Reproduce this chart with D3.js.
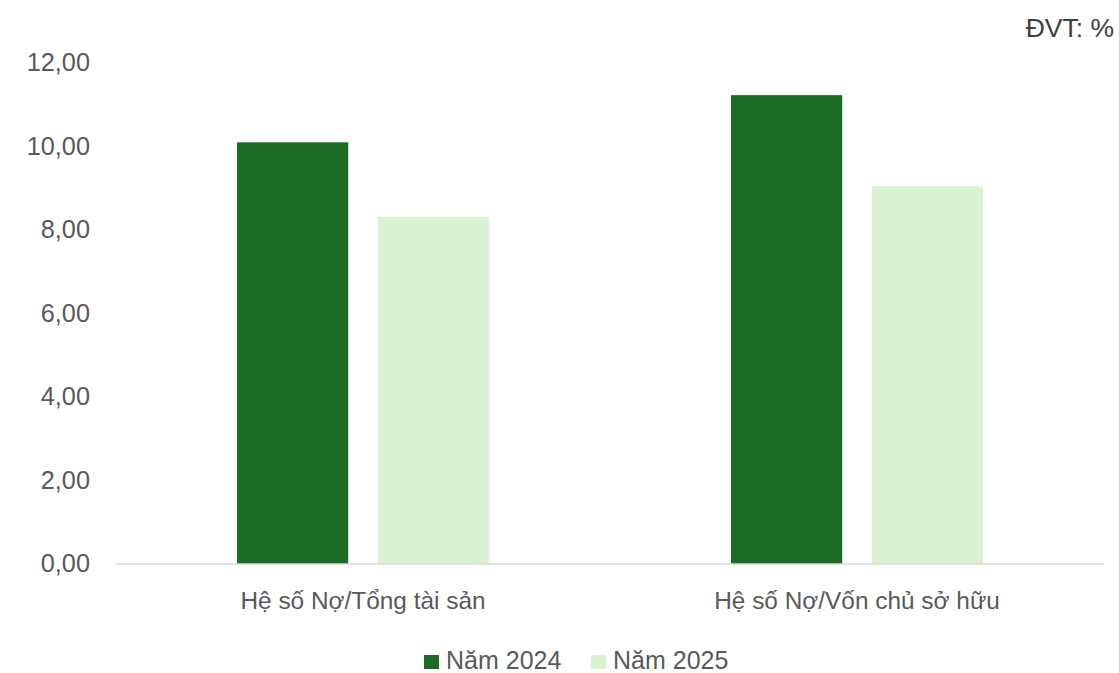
<!DOCTYPE html>
<html>
<head>
<meta charset="utf-8">
<script src="https://cdn.jsdelivr.net/npm/d3@7"></script>
<style>
	body { margin: 0; background: #ffffff; }
	svg { display: block; font-family: "Liberation Sans", Arial, sans-serif; }
</style>
</head>
<body>
<svg id="chart" width="1119" height="673"></svg>
<script>
var categories = ["Hệ số Nợ/Tổng tài sản", "Hệ số Nợ/Vốn chủ sở hữu"];
var seriesNames = ["Năm 2024", "Năm 2025"];
var values2024 = [10.10, 11.23];
var values2025 = [8.31, 9.05];
var yTicks = [0, 2, 4, 6, 8, 10, 12];
var colors = ["#1b6b24", "#d9f2d0"];

var svg = d3.select("#chart");
var textColor = "#595959";

var x = d3.scaleBand()
	.domain(categories)
	.range([116, 1104])
	.paddingInner(0.49)
	.paddingOuter(0.245);

var xInner = d3.scaleBand()
	.domain(seriesNames)
	.range([0, x.bandwidth()])
	.paddingInner(0.21);

var y = d3.scaleLinear()
	.domain([0, 12])
	.range([564, 63]);

var color = d3.scaleOrdinal()
	.domain(seriesNames)
	.range(colors);

var rows = categories.map(function(c, i) {
	return {
		category: c,
		values: [
			{ name: seriesNames[0], value: values2024[i] },
			{ name: seriesNames[1], value: values2025[i] }
		]
	};
});

/* y axis labels */
var yAxis = d3.axisLeft(y)
	.tickValues(yTicks)
	.tickSize(0)
	.tickPadding(0)
	.tickFormat(function(d) {
		return d3.format(".2f")(d).replace(".", ",");
	});

svg.append("g")
	.attr("transform", "translate(90,0)")
	.call(yAxis)
	.call(function(g) { g.select(".domain").remove(); })
	.selectAll("text")
	.attr("fill", textColor)
	.attr("font-size", "25.3px")
	.attr("font-family", "Liberation Sans, Arial, sans-serif")
	.attr("dy", "0.3em");

/* bars */
var groups = svg.append("g")
	.selectAll("g")
	.data(rows)
	.enter()
	.append("g")
	.attr("transform", function(d) {
		return "translate(" + x(d.category) + ",0)";
	});

groups.selectAll("rect")
	.data(function(d) { return d.values; })
	.enter()
	.append("rect")
	.attr("x", function(d) { return xInner(d.name); })
	.attr("y", function(d) { return y(d.value); })
	.attr("width", xInner.bandwidth())
	.attr("height", function(d) { return y(0) - y(d.value); })
	.attr("fill", function(d) { return color(d.name); });

/* baseline */
svg.append("line")
	.attr("x1", x.range()[0])
	.attr("x2", x.range()[1])
	.attr("y1", y(0))
	.attr("y2", y(0))
	.attr("stroke", "#d9d9d9")
	.attr("stroke-width", 1.5);

/* category labels */
svg.append("g")
	.selectAll("text")
	.data(categories)
	.enter()
	.append("text")
	.text(function(d) { return d; })
	.attr("x", function(d) { return x(d) + x.bandwidth() / 2; })
	.attr("y", 609)
	.attr("text-anchor", "middle")
	.attr("fill", textColor)
	.attr("font-size", "24.4px");

/* unit label */
svg.append("text")
	.text("ĐVT: %")
	.attr("x", 1114)
	.attr("y", 37)
	.attr("text-anchor", "end")
	.attr("fill", "#404040")
	.attr("font-size", "26.5px");

/* legend */
var legendX = [424, 591];
var legend = svg.append("g")
	.selectAll("g")
	.data(seriesNames)
	.enter()
	.append("g")
	.attr("transform", function(d, i) {
		return "translate(" + legendX[i] + ",0)";
	});

legend.append("rect")
	.attr("x", 0)
	.attr("y", 655)
	.attr("width", 15)
	.attr("height", 14)
	.attr("fill", function(d) { return color(d); });

legend.append("text")
	.text(function(d) { return d; })
	.attr("x", 22)
	.attr("y", 669)
	.attr("fill", textColor)
	.attr("font-size", "25px");
</script>
</body>
</html>
